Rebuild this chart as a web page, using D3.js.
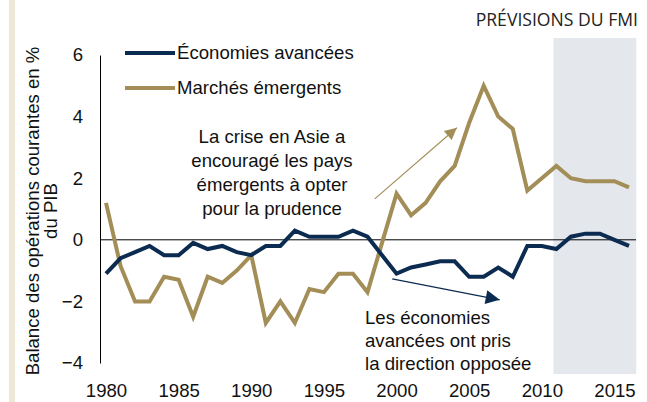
<!DOCTYPE html>
<html>
<head>
<meta charset="utf-8">
<script src="https://cdn.jsdelivr.net/npm/d3@7"></script>
<style>
  body { margin: 0; background: #fff; }
  svg { display: block; font-family: "Liberation Sans", Arial, sans-serif; }
</style>
</head>
<body>
<svg id="chart"></svg>
<script>
const years = d3.range(1980, 2017);
const advanced = [-1.1, -0.6, -0.4, -0.2, -0.5, -0.5, -0.1, -0.3, -0.2, -0.4,
  -0.5, -0.2, -0.2, 0.3, 0.1, 0.1, 0.1, 0.3, 0.1, -0.5,
  -1.1, -0.9, -0.8, -0.7, -0.7, -1.2, -1.2, -0.9, -1.2, -0.2,
  -0.2, -0.3, 0.1, 0.2, 0.2, 0.0, -0.2];
const emerging = [1.2, -0.85, -2.0, -2.0, -1.2, -1.3, -2.5, -1.2, -1.4, -1.0,
  -0.5, -2.7, -2.0, -2.7, -1.6, -1.7, -1.1, -1.1, -1.7, -0.1,
  1.5, 0.8, 1.2, 1.9, 2.4, 3.8, 5.0, 4.0, 3.6, 1.6,
  2.0, 2.4, 2.0, 1.9, 1.9, 1.9, 1.7];
const xTicks = [1980, 1985, 1990, 1995, 2000, 2005, 2010, 2015];
const yTicks = [-4, -2, 0, 2, 4, 6];
const forecast = [2010.8, 2016.5];

const width = 647, height = 402;
const navy = "#0c2b50", tan = "#a38e58";
const fs = "18.6px";

const svg = d3.select("#chart").attr("width", width).attr("height", height);

const x = d3.scaleLinear().domain([1980, 2016]).range([106, 629]);
const y = d3.scaleLinear().domain([-4, 6]).range([363, 55]);

// left beige strip
svg.append("rect").attr("x", 9).attr("y", 0).attr("width", 6).attr("height", height)
  .attr("fill", "#eee8d6");

// forecast shading
svg.append("rect")
  .attr("x", x(forecast[0])).attr("y", 38)
  .attr("width", x(forecast[1]) - x(forecast[0])).attr("height", 374 - 38)
  .attr("fill", "#e4e7ec");

svg.append("text").text("PRÉVISIONS DU FMI")
  .attr("x", 638).attr("y", 26).attr("text-anchor", "end")
  .attr("font-family", "'Open Sans', sans-serif").attr("font-size", "17.6px")
  .attr("fill", "#222");

// y axis
const yAxis = svg.append("g").attr("transform", "translate(100,0)")
  .call(d3.axisLeft(y).tickValues(yTicks).tickSize(0).tickPadding(17).tickFormat(d3.format("d")));
yAxis.select(".domain").attr("stroke", "#000").attr("stroke-width", 1);
yAxis.selectAll("text").attr("font-size", fs).attr("fill", "#111")
  .attr("font-family", "'Liberation Sans', Arial, sans-serif");

// x axis
const xAxis = svg.append("g").attr("transform", "translate(0,380)")
  .call(d3.axisBottom(x).tickValues(xTicks).tickSize(0).tickPadding(4).tickFormat(d3.format("d")));
xAxis.select(".domain").remove();
xAxis.selectAll("text").attr("font-size", fs).attr("fill", "#111")
  .attr("font-family", "'Liberation Sans', Arial, sans-serif");

// zero line
svg.append("line").attr("x1", 100).attr("x2", 636)
  .attr("y1", y(0)).attr("y2", y(0)).attr("stroke", "#000").attr("stroke-width", 1);

// y title
const yTitle = svg.append("text").attr("transform", "translate(39,211) rotate(-90)")
  .attr("text-anchor", "middle").attr("font-size", fs).attr("fill", "#111");
yTitle.append("tspan").attr("x", 0).attr("y", 0).text("Balance des opérations courantes en %");
yTitle.append("tspan").attr("x", 0).attr("y", 18).text("du PIB");

// lines
const line = d3.line().x((d, i) => x(years[i])).y(d => y(d));
svg.append("path").datum(emerging).attr("d", line)
  .attr("fill", "none").attr("stroke", tan).attr("stroke-width", 4).attr("stroke-linejoin", "miter");
svg.append("path").datum(advanced).attr("d", line)
  .attr("fill", "none").attr("stroke", navy).attr("stroke-width", 4).attr("stroke-linejoin", "miter");

// legend
const legend = [["Économies avancées", navy, 53], ["Marchés émergents", tan, 88]];
legend.forEach(function (l) {
  svg.append("line").attr("x1", 125).attr("x2", 175).attr("y1", l[2]).attr("y2", l[2])
    .attr("stroke", l[1]).attr("stroke-width", 4);
  svg.append("text").text(l[0]).attr("x", 177).attr("y", l[2] + 6)
    .attr("font-size", fs).attr("fill", "#111");
});

// annotations
const defs = svg.append("defs");
function marker(id, color, w, h) {
  defs.append("marker").attr("id", id).attr("viewBox", "0 0 10 10")
    .attr("refX", 10).attr("refY", 5).attr("markerUnits", "userSpaceOnUse")
    .attr("markerWidth", w).attr("markerHeight", h).attr("orient", "auto")
    .append("path").attr("d", "M0,0L10,5L0,10Z").attr("fill", color);
}
marker("arrTan", tan, 14, 12);
marker("arrNavy", navy, 16, 14);

svg.append("line")
  .attr("x1", x(1998.5)).attr("y1", y(1.33)).attr("x2", x(2004.15)).attr("y2", y(3.64))
  .attr("stroke", tan).attr("stroke-width", 1.2).attr("marker-end", "url(#arrTan)");
svg.append("line")
  .attr("x1", x(1999.7)).attr("y1", y(-1.27)).attr("x2", x(2007.1)).attr("y2", y(-1.95))
  .attr("stroke", navy).attr("stroke-width", 1.2).attr("marker-end", "url(#arrNavy)");

const note1 = ["La crise en Asie a", "encouragé les pays", "émergents à opter", "pour la prudence"];
svg.append("g").selectAll("text").data(note1).enter().append("text")
  .text(d => d).attr("x", 272).attr("y", (d, i) => 143 + i * 24)
  .attr("text-anchor", "middle").attr("font-size", fs).attr("fill", "#111");

const note2 = ["Les économies", "avancées ont pris", "la direction opposée"];
svg.append("g").selectAll("text").data(note2).enter().append("text")
  .text(d => d).attr("x", 365).attr("y", (d, i) => 324 + i * 23)
  .attr("font-size", fs).attr("fill", "#111");
</script>
</body>
</html>
